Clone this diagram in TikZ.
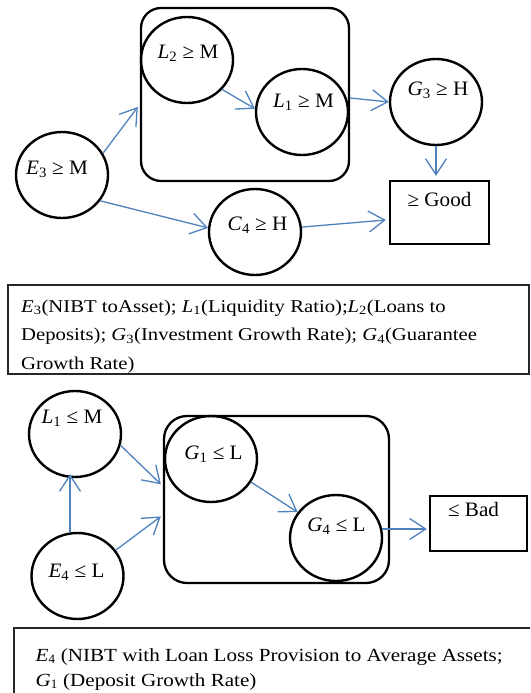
\documentclass[tikz,border=0pt]{standalone}
\usepackage{fontspec}
\setmainfont{Liberation Serif}
\newfontfamily\legfontA[FakeStretch=1.15]{Liberation Serif}
\newfontfamily\legfontB[FakeStretch=1.14]{Liberation Serif}
\newfontfamily\lblfont[FakeStretch=1.03]{Liberation Serif}
\usetikzlibrary{shapes.geometric,arrows.meta,calc}
\definecolor{arrowblue}{RGB}{79,129,189}
\tikzset{
  oval/.style={draw=black, line width=2.4pt, ellipse, minimum width=92pt, minimum height=86pt, inner sep=0pt},
  outcome/.style={draw=black, line width=2.4pt, rectangle, inner sep=0pt},
  grp/.style={draw=black, line width=2.3pt, rectangle, inner sep=0pt},
  legendbox/.style={draw=black!85, line width=1.1pt},
  lnk/.style={draw=arrowblue, line width=1.3pt, -{Straight Barb[length=16pt,width=21pt,line width=1.3pt]}},
  lbl/.style={font=\lblfont\fontsize{20.5}{24}\selectfont, inner sep=0pt},
  legA/.style={font=\legfontA\fontsize{18}{21}\selectfont, anchor=base west, inner sep=0pt},
  legB/.style={font=\legfontB\fontsize{18.5}{21}\selectfont, anchor=base west, inner sep=0pt}
}
\newcommand{\sym}[2]{\textit{#1}\textsubscript{#2}}
\begin{document}
\begin{tikzpicture}[x=1pt,y=-1pt]
\useasboundingbox (0,0) rectangle (530,693);
\clip (0,0) rectangle (530,693);
% ---------- upper diagram ----------
\node[grp, rounded corners=20pt, minimum width=208pt, minimum height=173pt] (grpA) at (245,94.5) {};
\node[oval, label={[lbl, xshift=1pt, yshift=7pt]center:{\sym{L}{2} ≥ M}}] (l2) at (187,60) {};
\node[oval, label={[lbl, xshift=1.5pt, yshift=10pt]center:{\sym{L}{1} ≥ M}}] (l1) at (302,112) {};
\node[oval, label={[lbl, xshift=2pt, yshift=12pt]center:{\sym{G}{3} ≥ H}}] (g3) at (436,102) {};
\node[oval, label={[lbl, xshift=-5pt, yshift=6pt]center:{\sym{E}{3} ≥ M}}] (e3) at (62,175) {};
\node[oval, label={[lbl, xshift=2.5pt, yshift=7pt]center:{\sym{C}{4} ≥ H}}] (c4) at (255,232) {};
\node[outcome, minimum width=99pt, minimum height=63pt, label={[lbl, yshift=13.5pt]center:{≥ Good}}] (good) at (439.5,212.5) {};

\draw[lnk] (e3.28) -- ($(grpA.north west)!0.571!(grpA.south west)+(-2,0)$);
\draw[lnk] (l2.-40) -- (l1.176);
\draw[lnk] ($(grpA.north east)!0.52!(grpA.south east)$) -- (g3.west);
\draw[lnk] (g3.south) -- ($(g3.south |- good.north)+(0,-4)$);
\draw[lnk] (e3.-34) -- (c4.175);
\draw[lnk] (c4.6) -- ($(good.west)+(-3,7.5)$);

% ---------- legend 1 ----------
\draw[legendbox] (8,285) rectangle (529,374);
\begin{scope}
\clip (8,285) rectangle (529,373.5);
\node[legA] (la1) at (21,312) {\textit{E}\textsubscript{3}(NIBT toAsset); \textit{L}\textsubscript{1}(Liquidity Ratio);\textit{L}\textsubscript{2}(Loans to};
\node[legA] (la2) at (21,340.5) {Deposits); \textit{G}\textsubscript{3}(Investment Growth Rate); \textit{G}\textsubscript{4}(Guarantee};
\node[legA] (la3) at (21,369) {Growth Rate)};
\end{scope}

% ---------- lower diagram ----------
\node[grp, rounded corners=23pt, minimum width=225pt, minimum height=167pt] (grpB) at (276.5,499.5) {};
\node[oval, label={[lbl, xshift=-3pt, yshift=16pt]center:{\sym{L}{1} ≤ M}}] (l1m) at (75,434) {};
\node[oval, label={[lbl, xshift=-1pt, yshift=4pt]center:{\sym{E}{4} ≤ L}}] (e4) at (77.5,576) {};
\node[oval, label={[lbl, xshift=2.5pt, yshift=5pt]center:{\sym{G}{1} ≤ L}}] (g1) at (211,459) {};
\node[oval, label={[lbl, xshift=0.5pt, yshift=12pt]center:{\sym{G}{4} ≤ L}}] (g4) at (336,538) {};
\node[outcome, minimum width=97pt, minimum height=55pt, label={[lbl, xshift=-5pt, yshift=14.5pt]center:{≤ Bad}}] (bad) at (478.5,523.5) {};

\draw[lnk] ($(e4.north)+(-7.5,0)$) -- ($(e4.north |- l1m.south)+(-7.5,-4)$);
\draw[lnk] (l1m.-14) -- ($(grpB.north west)!0.41!(grpB.south west)+(-2,0)$);
\draw[lnk] (e4.34) -- ($(grpB.north west)!0.6!(grpB.south west)+(-2,0)$);
\draw[lnk] (g1.-30) -- (g4.146);
\draw[lnk] (g4.11) -- ($(g4.11 -| bad.west)+(-2,0)$);

% ---------- legend 2 ----------
\draw[legendbox] (14,628) rectangle (545,710);
\node[legB] (lb1) at (35.5,661) {\textit{E}$_{\mathrm{4}}$ (NIBT with Loan Loss Provision to Average Assets;};
\node[legB] (lb2) at (35.5,686) {\textit{G}$_{\mathrm{1}}$ (Deposit Growth Rate)};
\end{tikzpicture}
\end{document}
